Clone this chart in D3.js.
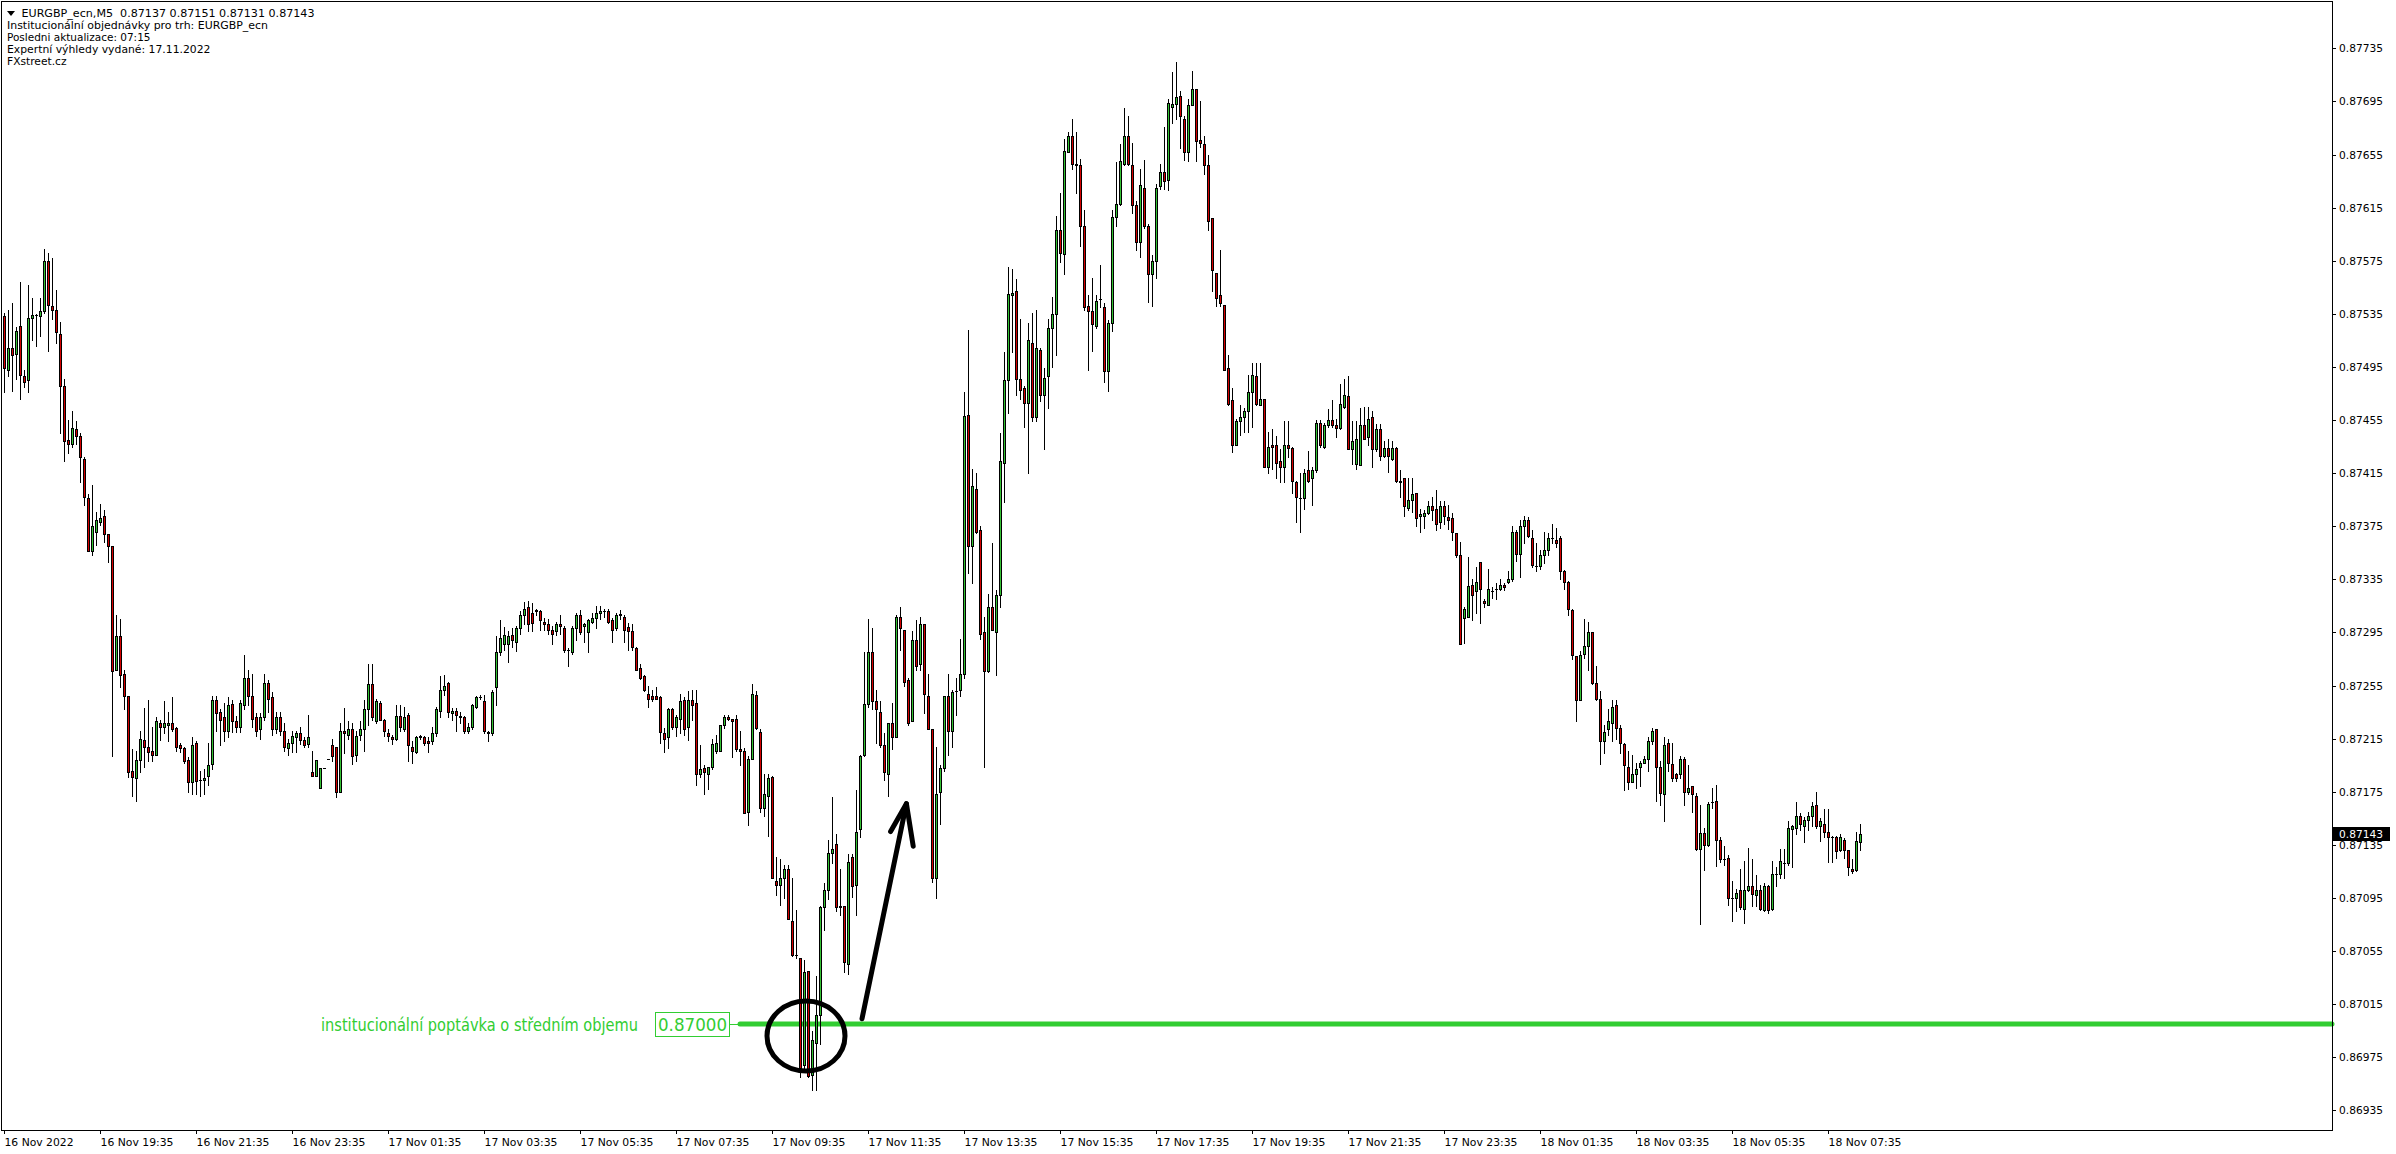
<!DOCTYPE html>
<html><head><meta charset="utf-8">
<script src="https://cdn.jsdelivr.net/npm/d3@7"></script>
<style>
html,body{margin:0;padding:0;background:#fff;overflow:hidden;}
svg{display:block;}
text{font-family:"DejaVu Sans",sans-serif;}
</style></head>
<body>
<svg id="chart" width="2396" height="1154"></svg>
<script>
// ---- DATA (EURGBP M5) ----
const opens=[
0.87533,0.87493,0.87509,0.87505,0.87526,0.87488,0.87485,0.87532,0.87534,0.87533,
0.87537,0.87575,0.87541,0.87538,0.87520,0.87481,0.87440,0.87437,0.87448,0.87443,
0.87426,0.87396,0.87356,0.87371,0.87378,0.87383,0.87369,0.87360,0.87267,0.87292,
0.87264,0.87247,0.87191,0.87185,0.87199,0.87214,0.87209,0.87206,0.87203,0.87227,
0.87224,0.87225,0.87227,0.87223,0.87210,0.87208,0.87199,0.87182,0.87212,0.87184,
0.87184,0.87187,0.87196,0.87244,0.87235,0.87231,0.87221,0.87241,0.87228,0.87224,
0.87240,0.87261,0.87247,0.87231,0.87222,0.87231,0.87257,0.87246,0.87222,0.87231,
0.87221,0.87208,0.87212,0.87216,0.87219,0.87214,0.87211,0.87190,0.87187,0.87178,
0.87193,0.87200,0.87210,0.87209,0.87175,0.87221,0.87218,0.87222,0.87203,0.87218,
0.87222,0.87237,0.87256,0.87228,0.87242,0.87229,0.87219,0.87216,0.87215,0.87232,
0.87222,0.87233,0.87209,0.87205,0.87216,0.87216,0.87213,0.87213,0.87219,0.87236,
0.87252,0.87257,0.87234,0.87236,0.87232,0.87231,0.87221,0.87224,0.87239,0.87246,
0.87243,0.87220,0.87219,0.87254,0.87280,0.87286,0.87286,0.87293,0.87288,0.87298,
0.87308,0.87314,0.87310,0.87312,0.87311,0.87303,0.87301,0.87297,0.87296,0.87301,
0.87298,0.87282,0.87280,0.87298,0.87308,0.87300,0.87295,0.87303,0.87306,0.87310,
0.87311,0.87311,0.87304,0.87298,0.87308,0.87307,0.87299,0.87296,0.87283,0.87268,
0.87262,0.87249,0.87247,0.87247,0.87246,0.87219,0.87216,0.87237,0.87224,0.87230,
0.87244,0.87224,0.87244,0.87242,0.87188,0.87193,0.87188,0.87194,0.87206,0.87206,
0.87225,0.87231,0.87230,0.87230,0.87207,0.87206,0.87160,0.87200,0.87248,0.87220,
0.87163,0.87172,0.87186,0.87108,0.87105,0.87110,0.87117,0.87078,0.87052,0.87050,
0.86969,0.87040,0.86962,0.86986,0.87007,0.87088,0.87101,0.87129,0.87136,0.87089,
0.87089,0.87045,0.87126,0.87105,0.87147,0.87203,0.87241,0.87280,0.87243,0.87235,
0.87210,0.87188,0.87227,0.87216,0.87307,0.87297,0.87259,0.87228,0.87289,0.87271,
0.87301,0.87247,0.87222,0.87110,0.87175,0.87193,0.87247,0.87221,0.87251,0.87252,
0.87264,0.87459,0.87360,0.87403,0.87372,0.87295,0.87266,0.87314,0.87295,0.87323,
0.87423,0.87485,0.87549,0.87552,0.87486,0.87479,0.87468,0.87513,0.87457,0.87508,
0.87474,0.87488,0.87524,0.87535,0.87598,0.87580,0.87657,0.87669,0.87647,0.87647,
0.87601,0.87541,0.87537,0.87526,0.87546,0.87540,0.87492,0.87528,0.87608,0.87618,
0.87648,0.87669,0.87647,0.87617,0.87589,0.87630,0.87601,0.87565,0.87575,0.87631,
0.87642,0.87636,0.87691,0.87693,0.87699,0.87682,0.87657,0.87692,0.87704,0.87666,
0.87663,0.87647,0.87607,0.87566,0.87549,0.87542,0.87494,0.87470,0.87436,0.87454,
0.87457,0.87462,0.87476,0.87488,0.87466,0.87471,0.87420,0.87436,0.87436,0.87424,
0.87420,0.87436,0.87434,0.87408,0.87396,0.87396,0.87417,0.87411,0.87417,0.87453,
0.87435,0.87451,0.87455,0.87451,0.87449,0.87465,0.87473,0.87433,0.87422,0.87421,
0.87451,0.87442,0.87457,0.87433,0.87448,0.87428,0.87434,0.87426,0.87434,0.87409,
0.87411,0.87389,0.87395,0.87400,0.87383,0.87383,0.87385,0.87390,0.87388,0.87378,
0.87390,0.87382,0.87381,0.87370,0.87353,0.87306,0.87307,0.87331,0.87326,0.87348,
0.87319,0.87316,0.87326,0.87328,0.87328,0.87331,0.87333,0.87335,0.87371,0.87354,
0.87375,0.87380,0.87366,0.87345,0.87345,0.87353,0.87357,0.87366,0.87365,0.87366,
0.87341,0.87333,0.87312,0.87277,0.87244,0.87279,0.87285,0.87295,0.87257,0.87245,
0.87213,0.87222,0.87227,0.87240,0.87223,0.87211,0.87194,0.87182,0.87188,0.87194,
0.87197,0.87200,0.87213,0.87222,0.87194,0.87173,0.87212,0.87196,0.87188,0.87188,
0.87200,0.87175,0.87179,0.87172,0.87132,0.87144,0.87135,0.87167,0.87168,0.87139,
0.87124,0.87125,0.87095,0.87095,0.87101,0.87087,0.87101,0.87104,0.87097,0.87101,
0.87086,0.87104,0.87087,0.87113,0.87113,0.87121,0.87121,0.87147,0.87148,0.87157,
0.87149,0.87154,0.87157,0.87165,0.87149,0.87151,0.87145,0.87141,0.87141,0.87131,
0.87139,0.87131,0.87117,0.87116,0.87137];
const highs=[
0.87536,0.87538,0.87543,0.87525,0.87559,0.87493,0.87557,0.87547,0.87535,0.87547,
0.87584,0.87581,0.87577,0.87553,0.87529,0.87486,0.87455,0.87462,0.87454,0.87445,
0.87427,0.87399,0.87406,0.87386,0.87392,0.87387,0.87369,0.87360,0.87308,0.87305,
0.87267,0.87247,0.87207,0.87206,0.87221,0.87238,0.87244,0.87224,0.87231,0.87229,
0.87243,0.87235,0.87246,0.87224,0.87212,0.87209,0.87201,0.87216,0.87213,0.87191,
0.87192,0.87212,0.87247,0.87247,0.87237,0.87242,0.87246,0.87244,0.87232,0.87244,
0.87278,0.87267,0.87264,0.87234,0.87234,0.87264,0.87259,0.87250,0.87235,0.87235,
0.87227,0.87215,0.87221,0.87221,0.87224,0.87216,0.87233,0.87206,0.87199,0.87193,
0.87193,0.87200,0.87215,0.87209,0.87227,0.87238,0.87228,0.87227,0.87221,0.87228,
0.87244,0.87271,0.87271,0.87245,0.87243,0.87230,0.87222,0.87218,0.87240,0.87240,
0.87239,0.87234,0.87213,0.87217,0.87218,0.87217,0.87216,0.87224,0.87239,0.87262,
0.87263,0.87258,0.87238,0.87238,0.87235,0.87232,0.87227,0.87241,0.87247,0.87248,
0.87248,0.87221,0.87252,0.87292,0.87304,0.87299,0.87296,0.87298,0.87300,0.87311,
0.87318,0.87319,0.87317,0.87313,0.87312,0.87306,0.87305,0.87300,0.87303,0.87308,
0.87300,0.87283,0.87300,0.87310,0.87312,0.87302,0.87305,0.87310,0.87315,0.87315,
0.87313,0.87313,0.87306,0.87310,0.87312,0.87308,0.87302,0.87301,0.87284,0.87271,
0.87263,0.87255,0.87252,0.87254,0.87247,0.87223,0.87238,0.87238,0.87233,0.87249,
0.87246,0.87251,0.87252,0.87252,0.87210,0.87195,0.87194,0.87215,0.87218,0.87225,
0.87233,0.87233,0.87230,0.87233,0.87221,0.87208,0.87202,0.87256,0.87251,0.87222,
0.87188,0.87188,0.87187,0.87126,0.87124,0.87120,0.87120,0.87110,0.87086,0.87050,
0.87048,0.87040,0.86995,0.87036,0.87089,0.87106,0.87139,0.87171,0.87143,0.87117,
0.87089,0.87128,0.87128,0.87176,0.87203,0.87280,0.87305,0.87298,0.87252,0.87243,
0.87219,0.87227,0.87242,0.87308,0.87314,0.87297,0.87261,0.87296,0.87304,0.87307,
0.87301,0.87264,0.87222,0.87209,0.87195,0.87247,0.87264,0.87252,0.87261,0.87290,
0.87476,0.87523,0.87418,0.87415,0.87375,0.87307,0.87324,0.87362,0.87327,0.87445,
0.87506,0.87570,0.87569,0.87561,0.87531,0.87481,0.87528,0.87536,0.87538,0.87509,
0.87494,0.87531,0.87548,0.87609,0.87626,0.87667,0.87672,0.87682,0.87672,0.87652,
0.87613,0.87549,0.87562,0.87549,0.87572,0.87543,0.87530,0.87613,0.87649,0.87663,
0.87690,0.87684,0.87664,0.87620,0.87644,0.87651,0.87603,0.87579,0.87633,0.87648,
0.87676,0.87697,0.87717,0.87725,0.87703,0.87684,0.87697,0.87718,0.87704,0.87695,
0.87669,0.87655,0.87607,0.87566,0.87583,0.87542,0.87504,0.87479,0.87456,0.87466,
0.87464,0.87489,0.87498,0.87498,0.87498,0.87471,0.87446,0.87448,0.87443,0.87433,
0.87454,0.87454,0.87435,0.87409,0.87415,0.87418,0.87432,0.87420,0.87455,0.87455,
0.87453,0.87463,0.87470,0.87456,0.87482,0.87486,0.87488,0.87454,0.87454,0.87464,
0.87465,0.87465,0.87462,0.87452,0.87452,0.87439,0.87441,0.87439,0.87435,0.87417,
0.87411,0.87411,0.87411,0.87400,0.87388,0.87387,0.87394,0.87397,0.87402,0.87394,
0.87394,0.87391,0.87385,0.87370,0.87363,0.87314,0.87352,0.87335,0.87344,0.87348,
0.87320,0.87343,0.87329,0.87332,0.87335,0.87332,0.87341,0.87375,0.87372,0.87380,
0.87383,0.87382,0.87372,0.87362,0.87357,0.87371,0.87370,0.87377,0.87374,0.87368,
0.87342,0.87334,0.87313,0.87277,0.87281,0.87305,0.87303,0.87295,0.87270,0.87251,
0.87225,0.87237,0.87244,0.87244,0.87225,0.87212,0.87206,0.87203,0.87197,0.87198,
0.87202,0.87216,0.87223,0.87222,0.87198,0.87216,0.87215,0.87212,0.87189,0.87202,
0.87201,0.87195,0.87179,0.87174,0.87165,0.87148,0.87167,0.87178,0.87180,0.87141,
0.87134,0.87127,0.87108,0.87102,0.87117,0.87123,0.87133,0.87124,0.87112,0.87105,
0.87106,0.87105,0.87123,0.87118,0.87132,0.87132,0.87153,0.87150,0.87167,0.87159,
0.87156,0.87160,0.87167,0.87175,0.87155,0.87162,0.87162,0.87142,0.87142,0.87143,
0.87140,0.87131,0.87124,0.87145,0.87151];
const lows=[
0.87476,0.87488,0.87477,0.87486,0.87471,0.87480,0.87476,0.87515,0.87511,0.87518,
0.87536,0.87507,0.87531,0.87513,0.87445,0.87424,0.87430,0.87435,0.87437,0.87408,
0.87391,0.87356,0.87353,0.87361,0.87376,0.87363,0.87348,0.87202,0.87267,0.87254,
0.87237,0.87186,0.87172,0.87168,0.87190,0.87194,0.87198,0.87198,0.87203,0.87214,
0.87219,0.87213,0.87221,0.87206,0.87205,0.87197,0.87175,0.87173,0.87173,0.87172,
0.87173,0.87180,0.87192,0.87221,0.87210,0.87213,0.87216,0.87220,0.87220,0.87220,
0.87237,0.87240,0.87224,0.87217,0.87215,0.87229,0.87235,0.87218,0.87219,0.87218,
0.87206,0.87203,0.87205,0.87205,0.87211,0.87209,0.87209,0.87187,0.87187,0.87178,
0.87193,0.87200,0.87198,0.87171,0.87175,0.87204,0.87215,0.87196,0.87198,0.87214,
0.87206,0.87225,0.87229,0.87227,0.87229,0.87217,0.87213,0.87211,0.87214,0.87221,
0.87221,0.87198,0.87197,0.87204,0.87215,0.87210,0.87205,0.87211,0.87217,0.87231,
0.87248,0.87231,0.87229,0.87221,0.87227,0.87219,0.87219,0.87222,0.87238,0.87245,
0.87219,0.87213,0.87218,0.87240,0.87278,0.87282,0.87273,0.87284,0.87281,0.87294,
0.87301,0.87296,0.87296,0.87308,0.87297,0.87297,0.87294,0.87286,0.87293,0.87294,
0.87280,0.87270,0.87279,0.87289,0.87294,0.87288,0.87280,0.87302,0.87298,0.87305,
0.87307,0.87302,0.87288,0.87297,0.87305,0.87288,0.87282,0.87282,0.87267,0.87260,
0.87251,0.87239,0.87243,0.87245,0.87212,0.87205,0.87208,0.87222,0.87217,0.87219,
0.87218,0.87214,0.87229,0.87180,0.87186,0.87173,0.87177,0.87192,0.87204,0.87206,
0.87223,0.87229,0.87201,0.87206,0.87195,0.87159,0.87150,0.87200,0.87222,0.87160,
0.87157,0.87142,0.87110,0.87097,0.87090,0.87095,0.87079,0.87051,0.87050,0.86960,
0.86966,0.86960,0.86950,0.86950,0.86985,0.87071,0.87094,0.87121,0.87085,0.87082,
0.87039,0.87038,0.87096,0.87082,0.87141,0.87202,0.87239,0.87237,0.87212,0.87209,
0.87184,0.87172,0.87207,0.87216,0.87282,0.87255,0.87225,0.87228,0.87267,0.87267,
0.87234,0.87222,0.87107,0.87095,0.87151,0.87191,0.87203,0.87209,0.87233,0.87247,
0.87261,0.87340,0.87332,0.87370,0.87290,0.87194,0.87265,0.87297,0.87263,0.87314,
0.87393,0.87460,0.87506,0.87474,0.87471,0.87450,0.87415,0.87454,0.87454,0.87469,
0.87433,0.87464,0.87495,0.87504,0.87574,0.87565,0.87657,0.87644,0.87626,0.87586,
0.87538,0.87493,0.87507,0.87524,0.87540,0.87484,0.87477,0.87522,0.87601,0.87617,
0.87647,0.87647,0.87611,0.87583,0.87578,0.87600,0.87544,0.87541,0.87562,0.87629,
0.87629,0.87628,0.87679,0.87682,0.87660,0.87651,0.87650,0.87692,0.87650,0.87661,
0.87640,0.87598,0.87552,0.87541,0.87541,0.87493,0.87466,0.87431,0.87436,0.87444,
0.87446,0.87446,0.87450,0.87466,0.87466,0.87420,0.87415,0.87418,0.87411,0.87408,
0.87408,0.87427,0.87400,0.87378,0.87371,0.87388,0.87408,0.87391,0.87416,0.87435,
0.87434,0.87450,0.87450,0.87442,0.87448,0.87464,0.87433,0.87422,0.87418,0.87421,
0.87441,0.87436,0.87420,0.87432,0.87425,0.87427,0.87416,0.87425,0.87408,0.87397,
0.87383,0.87387,0.87386,0.87375,0.87371,0.87374,0.87384,0.87380,0.87372,0.87374,
0.87377,0.87373,0.87365,0.87352,0.87286,0.87287,0.87307,0.87304,0.87310,0.87302,
0.87314,0.87316,0.87321,0.87320,0.87327,0.87327,0.87332,0.87334,0.87349,0.87337,
0.87362,0.87367,0.87344,0.87341,0.87343,0.87347,0.87353,0.87362,0.87359,0.87335,
0.87328,0.87308,0.87275,0.87228,0.87244,0.87276,0.87267,0.87256,0.87244,0.87196,
0.87204,0.87218,0.87213,0.87215,0.87204,0.87176,0.87177,0.87182,0.87178,0.87179,
0.87197,0.87191,0.87211,0.87168,0.87165,0.87153,0.87191,0.87183,0.87183,0.87185,
0.87165,0.87173,0.87160,0.87131,0.87075,0.87116,0.87134,0.87163,0.87119,0.87122,
0.87120,0.87090,0.87078,0.87085,0.87087,0.87076,0.87100,0.87089,0.87089,0.87086,
0.87085,0.87084,0.87086,0.87104,0.87110,0.87110,0.87120,0.87118,0.87143,0.87146,
0.87137,0.87146,0.87149,0.87148,0.87138,0.87141,0.87122,0.87122,0.87125,0.87130,
0.87125,0.87112,0.87114,0.87115,0.87131];
const closes=[
0.87494,0.87509,0.87504,0.87522,0.87489,0.87484,0.87532,0.87534,0.87534,0.87537,
0.87575,0.87542,0.87538,0.87521,0.87481,0.87439,0.87437,0.87449,0.87443,0.87427,
0.87397,0.87356,0.87375,0.87380,0.87381,0.87369,0.87360,0.87266,0.87292,0.87263,
0.87247,0.87190,0.87186,0.87199,0.87215,0.87209,0.87205,0.87203,0.87228,0.87224,
0.87227,0.87227,0.87222,0.87209,0.87208,0.87198,0.87182,0.87210,0.87183,0.87184,
0.87185,0.87195,0.87244,0.87234,0.87229,0.87221,0.87240,0.87228,0.87224,0.87242,
0.87261,0.87247,0.87230,0.87221,0.87231,0.87257,0.87245,0.87222,0.87231,0.87221,
0.87209,0.87212,0.87217,0.87219,0.87214,0.87210,0.87216,0.87187,0.87199,0.87193,
0.87193,0.87200,0.87202,0.87175,0.87221,0.87219,0.87222,0.87202,0.87217,0.87222,
0.87237,0.87256,0.87231,0.87243,0.87229,0.87221,0.87217,0.87215,0.87232,0.87224,
0.87231,0.87210,0.87206,0.87216,0.87217,0.87212,0.87212,0.87219,0.87237,0.87252,
0.87255,0.87235,0.87236,0.87233,0.87231,0.87221,0.87224,0.87240,0.87246,0.87246,
0.87221,0.87219,0.87250,0.87280,0.87291,0.87293,0.87292,0.87289,0.87298,0.87308,
0.87313,0.87301,0.87302,0.87311,0.87304,0.87301,0.87297,0.87294,0.87301,0.87300,
0.87282,0.87282,0.87298,0.87308,0.87295,0.87301,0.87304,0.87306,0.87310,0.87311,
0.87311,0.87303,0.87297,0.87308,0.87309,0.87297,0.87296,0.87284,0.87267,0.87261,
0.87252,0.87245,0.87245,0.87245,0.87220,0.87215,0.87237,0.87224,0.87231,0.87243,
0.87222,0.87244,0.87240,0.87188,0.87192,0.87190,0.87194,0.87211,0.87212,0.87225,
0.87231,0.87230,0.87228,0.87207,0.87206,0.87159,0.87200,0.87249,0.87223,0.87163,
0.87173,0.87185,0.87110,0.87105,0.87110,0.87117,0.87079,0.87052,0.87052,0.86967,
0.87039,0.86961,0.86988,0.87007,0.87088,0.87101,0.87129,0.87132,0.87088,0.87088,
0.87047,0.87122,0.87104,0.87145,0.87202,0.87241,0.87280,0.87243,0.87237,0.87210,
0.87190,0.87227,0.87216,0.87307,0.87298,0.87258,0.87227,0.87289,0.87270,0.87301,
0.87249,0.87222,0.87110,0.87173,0.87193,0.87247,0.87221,0.87250,0.87251,0.87264,
0.87458,0.87360,0.87405,0.87371,0.87294,0.87266,0.87314,0.87297,0.87323,0.87424,
0.87485,0.87550,0.87551,0.87486,0.87478,0.87468,0.87515,0.87457,0.87509,0.87474,
0.87487,0.87524,0.87535,0.87598,0.87581,0.87658,0.87669,0.87648,0.87648,0.87601,
0.87540,0.87537,0.87527,0.87545,0.87546,0.87492,0.87528,0.87608,0.87618,0.87650,
0.87669,0.87648,0.87617,0.87589,0.87632,0.87601,0.87565,0.87575,0.87630,0.87642,
0.87635,0.87694,0.87693,0.87698,0.87684,0.87657,0.87692,0.87704,0.87665,0.87664,
0.87647,0.87605,0.87568,0.87547,0.87543,0.87493,0.87467,0.87436,0.87454,0.87457,
0.87462,0.87476,0.87489,0.87467,0.87471,0.87420,0.87435,0.87435,0.87423,0.87420,
0.87436,0.87434,0.87409,0.87397,0.87396,0.87415,0.87409,0.87417,0.87453,0.87436,
0.87451,0.87455,0.87451,0.87449,0.87467,0.87474,0.87433,0.87439,0.87441,0.87451,
0.87441,0.87456,0.87433,0.87448,0.87428,0.87434,0.87428,0.87434,0.87409,0.87408,
0.87390,0.87395,0.87399,0.87381,0.87384,0.87385,0.87390,0.87387,0.87377,0.87390,
0.87383,0.87380,0.87371,0.87353,0.87286,0.87313,0.87330,0.87323,0.87333,0.87328,
0.87317,0.87328,0.87326,0.87328,0.87331,0.87329,0.87335,0.87371,0.87354,0.87375,
0.87380,0.87368,0.87346,0.87345,0.87353,0.87357,0.87366,0.87366,0.87362,0.87341,
0.87333,0.87313,0.87278,0.87244,0.87278,0.87285,0.87295,0.87257,0.87245,0.87213,
0.87220,0.87228,0.87239,0.87223,0.87212,0.87195,0.87182,0.87188,0.87192,0.87197,
0.87200,0.87213,0.87221,0.87194,0.87174,0.87210,0.87197,0.87185,0.87185,0.87200,
0.87175,0.87178,0.87173,0.87132,0.87144,0.87135,0.87166,0.87167,0.87139,0.87124,
0.87124,0.87095,0.87095,0.87099,0.87088,0.87101,0.87104,0.87098,0.87101,0.87087,
0.87104,0.87086,0.87113,0.87113,0.87123,0.87121,0.87148,0.87149,0.87157,0.87151,
0.87154,0.87157,0.87164,0.87149,0.87153,0.87145,0.87141,0.87141,0.87130,0.87141,
0.87131,0.87118,0.87115,0.87138,0.87143];

const timeLabels=["16 Nov 2022","16 Nov 19:35","16 Nov 21:35","16 Nov 23:35","17 Nov 01:35","17 Nov 03:35","17 Nov 05:35","17 Nov 07:35","17 Nov 09:35","17 Nov 11:35","17 Nov 13:35","17 Nov 15:35","17 Nov 17:35","17 Nov 19:35","17 Nov 21:35","17 Nov 23:35","18 Nov 01:35","18 Nov 03:35","18 Nov 05:35","18 Nov 07:35"];
const timeLabelBar=[0,24,48,72,96,120,144,168,192,216,240,264,288,312,336,360,384,408,432,456];
const priceTicks=[0.87735,0.87695,0.87655,0.87615,0.87575,0.87535,0.87495,0.87455,0.87415,0.87375,0.87335,0.87295,0.87255,0.87215,0.87175,0.87135,0.87095,0.87055,0.87015,0.86975,0.86935];
const headerSymbol="EURGBP_ecn,M5  0.87137 0.87151 0.87131 0.87143";
const headerLines=["Institucionální objednávky pro trh: EURGBP_ecn","Posledni aktualizace: 07:15","Expertní výhledy vydané: 17.11.2022","FXstreet.cz"];
const levelPrice=0.87000;
const levelText="institucionální poptávka o středním objemu";
const levelStartBar=184;
const lastPrice=0.87143;
const ringCenter={bar:200.5,price:0.86991};
const arrowShaft=[[214.5,0.87004],[225.6,0.87166]];
const arrowHead=[[221.65,0.87145],[225.6,0.87166],[227.3,0.87134]];

// ---- DRAW ----
const BULL="#33c233", BEAR="#d40000", LEVEL="#32cd32";
const svg=d3.select("#chart");
svg.append("rect").attr("width",2396).attr("height",1154).attr("fill","#fff");
const plotR=2332, plotB=1130;
const x=d3.scaleLinear().domain([0,464]).range([4,1860]);
const y=d3.scaleLinear().domain([0.869202,0.877699]).range([plotB,2]);

// level line (behind candles)
const lvY=Math.round(y(levelPrice));
const lvX=x(levelStartBar);
svg.append("line").attr("x1",lvX).attr("x2",plotR).attr("y1",lvY).attr("y2",lvY)
  .attr("stroke",LEVEL).attr("stroke-width",5).attr("stroke-linecap","round");
svg.append("line").attr("x1",lvX-10).attr("x2",lvX).attr("y1",lvY+0.5).attr("y2",lvY+0.5)
  .attr("stroke",LEVEL).attr("stroke-width",1);

// candles
const data=opens.map((o,i)=>({i,o,c:closes[i],h:Math.max(highs[i],o,closes[i]),l:Math.min(lows[i],o,closes[i])}));
const cg=svg.append("g").attr("shape-rendering","crispEdges");
const px=d=>Math.round(x(d.i));
const yTop=d=>Math.round(y(Math.max(d.o,d.c)));
const yBot=d=>Math.round(y(Math.min(d.o,d.c)));
cg.selectAll("rect.w").data(data).join("rect").attr("class","w")
  .attr("x",px).attr("width",1)
  .attr("y",d=>Math.round(y(d.h))).attr("height",d=>Math.max(1,Math.round(y(d.l))-Math.round(y(d.h))+1))
  .attr("fill","#000");
cg.selectAll("rect.b").data(data).join("rect").attr("class","b")
  .attr("x",d=>px(d)-1).attr("width",3)
  .attr("y",yTop).attr("height",d=>Math.max(1,yBot(d)-yTop(d)+1))
  .attr("fill","#000");
cg.selectAll("rect.f").data(data.filter(d=>yBot(d)-yTop(d)>=2)).join("rect").attr("class","f")
  .attr("x",px).attr("width",1)
  .attr("y",d=>yTop(d)+1).attr("height",d=>yBot(d)-yTop(d)-1)
  .attr("fill",d=>d.c>=d.o?BULL:BEAR);

// frame
svg.append("rect").attr("x",1.5).attr("y",1.5).attr("width",plotR-1).attr("height",plotB-1)
  .attr("fill","none").attr("stroke","#000").attr("shape-rendering","crispEdges");

// right price axis
const ax=svg.append("g").attr("transform",`translate(${plotR},0)`)
  .call(d3.axisRight(y).tickValues(priceTicks).tickSize(4).tickPadding(3).tickFormat(d3.format(".5f")));
ax.select(".domain").remove();
ax.selectAll("line").attr("stroke","#000").attr("shape-rendering","crispEdges");
ax.selectAll("text").attr("font-family","DejaVu Sans").attr("font-size",11).attr("fill","#000")
  .attr("textLength",44).attr("lengthAdjust","spacingAndGlyphs");

// bottom time axis
const bx=svg.append("g").attr("transform",`translate(0,${plotB})`)
  .call(d3.axisBottom(x).tickValues(timeLabelBar).tickSize(4).tickPadding(4).tickFormat((d,i)=>timeLabels[i]));
bx.select(".domain").remove();
bx.selectAll("line").attr("stroke","#000").attr("shape-rendering","crispEdges");
bx.selectAll("text").attr("font-family","DejaVu Sans").attr("font-size",11).attr("fill","#000")
  .attr("text-anchor","start").attr("x",0)
  .attr("textLength",(d,i)=>i===0?69:73).attr("lengthAdjust","spacingAndGlyphs");

// last price box
const lpY=y(lastPrice);
svg.append("rect").attr("x",2333).attr("y",Math.round(lpY)-7).attr("width",57).attr("height",14).attr("fill","#000");
svg.append("text").attr("x",2339).attr("y",Math.round(lpY)+4).attr("font-size",11).attr("fill","#fff")
  .attr("textLength",44).attr("lengthAdjust","spacingAndGlyphs").text(d3.format(".5f")(lastPrice));

// header
svg.append("path").attr("d","M7,11L15,11L11,16Z").attr("fill","#000");
svg.append("text").attr("x",21.5).attr("y",17).attr("font-size",11).attr("fill","#000")
  .style("white-space","pre").attr("textLength",293).attr("lengthAdjust","spacingAndGlyphs").text(headerSymbol);
const hl=[261,143.5,203.5,59.5];
headerLines.forEach((t,k)=>{
  svg.append("text").attr("x",7).attr("y",29+12*k).attr("font-size",11).attr("fill","#000")
    .attr("textLength",hl[k]).attr("lengthAdjust","spacingAndGlyphs").text(t);
});

// level label + price box
svg.append("rect").attr("x",lvX-84.5).attr("y",lvY-11.5).attr("width",74).attr("height",24)
  .attr("fill","#fff").attr("stroke",LEVEL).attr("stroke-width",1);
svg.append("text").attr("x",lvX-82).attr("y",lvY+7).attr("font-size",18).attr("fill",LEVEL)
  .attr("textLength",69).attr("lengthAdjust","spacingAndGlyphs").text(d3.format(".5f")(levelPrice));
svg.append("text").attr("transform",`translate(321,${lvY+7}) scale(1,1.16)`)
  .attr("x",0).attr("y",0).attr("font-size",15).attr("fill",LEVEL)
  .attr("textLength",317).attr("lengthAdjust","spacingAndGlyphs").text(levelText);

// ring and arrow annotations
svg.append("ellipse").attr("cx",x(ringCenter.bar)).attr("cy",y(ringCenter.price)).attr("rx",39).attr("ry",35)
  .attr("fill","none").attr("stroke","#000").attr("stroke-width",5);
const ln=d3.line().x(d=>x(d[0])).y(d=>y(d[1]));
svg.append("path").attr("d",ln(arrowShaft)).attr("fill","none").attr("stroke","#000").attr("stroke-width",5).attr("stroke-linecap","round");
svg.append("path").attr("d",ln(arrowHead)).attr("fill","none").attr("stroke","#000").attr("stroke-width",5).attr("stroke-linecap","round").attr("stroke-linejoin","round");
</script>
</body></html>
